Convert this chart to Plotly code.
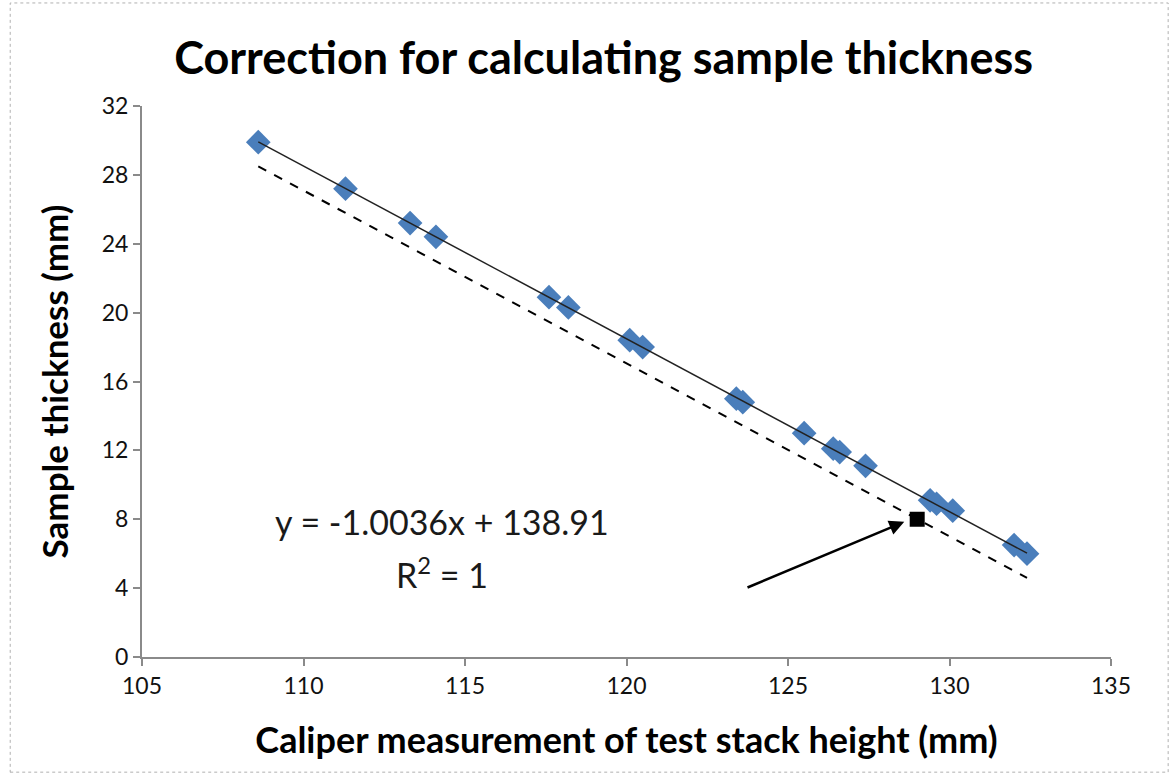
import plotly.graph_objects as go

# Data
caliper_mm = [108.6, 111.3, 113.3, 114.1, 117.6, 118.2, 120.1, 120.5, 123.4, 123.6,
              125.5, 126.4, 126.6, 127.4, 129.4, 129.6, 130.1, 132.0, 132.4]
thickness_mm = [29.9, 27.2, 25.2, 24.4, 20.9, 20.3, 18.4, 18.0, 15.0, 14.8,
                13.0, 12.1, 11.9, 11.1, 9.1, 8.9, 8.5, 6.5, 6.0]

trend_x = [108.6, 132.4]
trend_y = [29.92, 6.03]

corrected_x = [108.6, 132.4]
corrected_y = [28.5, 4.6]

marked_x = [129.0]
marked_y = [8.0]

arrow_tail = (123.7, 4.0)
arrow_head = (128.6, 7.85)

eq_pos = (114.3, 7.85)
r2_pos = (114.3, 4.9)

FONT = "Lato"
BLUE = "#4A7EBB"

fig = go.Figure()

fig.add_trace(go.Scatter(x=corrected_x, y=corrected_y, mode="lines",
                         line=dict(color="black", width=2, dash="dash"),
                         showlegend=False, hoverinfo="skip"))
fig.add_trace(go.Scatter(x=caliper_mm, y=thickness_mm, mode="markers",
                         marker=dict(symbol="diamond", size=19, color=BLUE),
                         showlegend=False))
fig.add_trace(go.Scatter(x=trend_x, y=trend_y, mode="lines",
                         line=dict(color="#222222", width=1.5),
                         showlegend=False, hoverinfo="skip"))
fig.add_trace(go.Scatter(x=marked_x, y=marked_y, mode="markers",
                         marker=dict(symbol="square", size=15, color="black"),
                         showlegend=False))

fig.add_annotation(x=arrow_head[0], y=arrow_head[1], ax=arrow_tail[0], ay=arrow_tail[1],
                   xref="x", yref="y", axref="x", ayref="y", text="",
                   showarrow=True, arrowhead=2, arrowsize=1.2, arrowwidth=2.5,
                   arrowcolor="black")

fig.add_annotation(x=eq_pos[0], y=eq_pos[1], xref="x", yref="y",
                   text="y = -1.0036x + 138.91", showarrow=False,
                   font=dict(family=FONT, size=34, color="#1a1a1a"))
fig.add_annotation(x=r2_pos[0], y=r2_pos[1], xref="x", yref="y",
                   text="R<sup>2</sup> = 1", showarrow=False,
                   font=dict(family=FONT, size=34, color="#1a1a1a"))

fig.add_shape(type="rect", xref="paper", yref="paper",
              x0=-0.136, x1=1.059, y0=-0.209, y1=1.187,
              line=dict(color="#b0b0b0", width=1, dash="dot"))

axis_common = dict(showline=True, linecolor="#8a8a8a", linewidth=2,
                   ticks="outside", ticklen=7, tickcolor="#8a8a8a", tickwidth=2,
                   showgrid=False, zeroline=False,
                   tickfont=dict(family=FONT, size=23, color="#111111"))

fig.update_xaxes(range=[105, 135], dtick=5, tick0=105,
                 title=dict(text="<b>Caliper measurement of test stack height (mm)</b>",
                            font=dict(family=FONT, size=36, color="black"), standoff=30),
                 **axis_common)
fig.update_yaxes(range=[0, 32], dtick=4, tick0=0,
                 title=dict(text="<b>Sample thickness (mm)</b>",
                            font=dict(family=FONT, size=35, color="black"), standoff=22),
                 **axis_common)

fig.update_layout(
    width=1172, height=773,
    margin=dict(l=142, r=61, t=106, b=116),
    paper_bgcolor="white", plot_bgcolor="white",
    title=dict(text="<b>Correction for calculating sample thickness</b>",
               x=0.515, xanchor="center", y=0.925, yanchor="middle",
               font=dict(family=FONT, size=45, color="black")),
)

fig.write_html("out.html")
